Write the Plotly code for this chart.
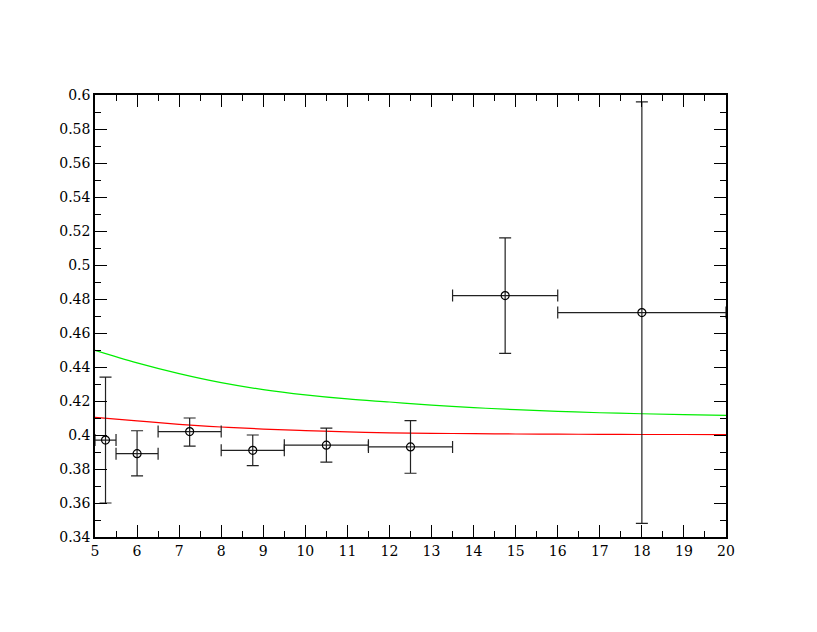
import plotly.graph_objects as go

# measured points with x/y error bars
x_pts = [5.25, 6.0, 7.25, 8.75, 10.5, 12.5, 14.75, 18.0]
x_err = [0.25, 0.5, 0.75, 0.75, 1.0, 1.0, 1.25, 2.0]
y_pts = [0.397, 0.389, 0.402, 0.391, 0.394, 0.393, 0.482, 0.472]
y_err_plus = [0.037, 0.0135, 0.008, 0.009, 0.010, 0.0155, 0.034, 0.124]
y_err_minus = [0.037, 0.013, 0.0085, 0.009, 0.010, 0.0155, 0.034, 0.124]

# curves
x_curve = [5, 6, 7, 8, 9, 10, 11, 12, 13, 14, 15, 16, 17, 18, 19, 20]
y_green = [0.4498, 0.4424, 0.4361, 0.4308, 0.4267, 0.4236, 0.4212, 0.4194,
           0.4176, 0.4161, 0.4149, 0.4139, 0.4131, 0.4125, 0.4120, 0.4116]
y_red = [0.4104, 0.4083, 0.4063, 0.4047, 0.4035, 0.4026, 0.4018, 0.4013,
         0.4010, 0.4008, 0.4006, 0.4005, 0.4004, 0.4003, 0.4003, 0.4002]

serif = 'DejaVu Serif'

fig = go.Figure()

fig.add_trace(go.Scatter(
    x=x_curve, y=y_green, mode='lines', line=dict(color='#00ee00', width=1.2, shape='spline'),
    showlegend=False, hoverinfo='skip'
))
fig.add_trace(go.Scatter(
    x=x_curve, y=y_red, mode='lines', line=dict(color='#ff0000', width=1.2, shape='spline'),
    showlegend=False, hoverinfo='skip'
))

fig.add_trace(go.Scatter(
    x=x_pts, y=y_pts, mode='markers',
    marker=dict(symbol='circle-open', size=8, color='black', line=dict(width=1.2, color='black')),
    error_x=dict(type='data', array=x_err, color='#222222', thickness=1.2, width=6),
    error_y=dict(type='data', array=y_err_plus, arrayminus=y_err_minus,
                 color='#222222', thickness=1.2, width=6),
    showlegend=False
))

axis_common = dict(
    showline=True, linecolor='black', linewidth=1.5, mirror='ticks',
    ticks='inside', ticklen=12, tickwidth=1.2, tickcolor='black',
    showgrid=False, zeroline=False,
    tickfont=dict(family=serif, size=14, color='black'),
)

fig.update_xaxes(range=[5, 20], dtick=1, tick0=5,
                 minor=dict(dtick=0.5, ticks='inside', ticklen=6, tickcolor='black', tickwidth=1.2),
                 **axis_common)
fig.update_yaxes(range=[0.34, 0.6], dtick=0.02, tick0=0.34,
                 minor=dict(dtick=0.01, ticks='inside', ticklen=6, tickcolor='black', tickwidth=1.2),
                 **axis_common)

# page body adds an 8px offset, so the figure is a bit smaller than the window
fig.update_layout(
    width=809, height=624,
    margin=dict(l=87, r=91, t=87, b=95),
    plot_bgcolor='white', paper_bgcolor='white',
    font=dict(family=serif, color='black'),
    showlegend=False,
)

fig.write_html("out.html")
